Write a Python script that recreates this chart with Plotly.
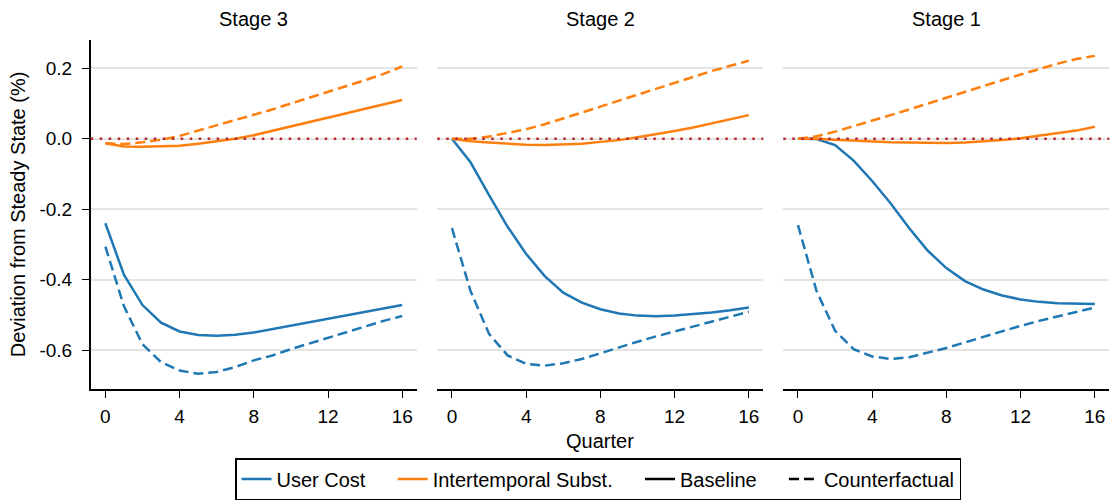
import plotly.graph_objects as go

quarters = list(range(17))
stages = ["Stage 3", "Stage 2", "Stage 1"]

# Stage 3
s3_user_base = [-0.240, -0.386, -0.472, -0.522, -0.547, -0.557, -0.559, -0.556, -0.550,
                -0.540, -0.531, -0.522, -0.511, -0.502, -0.492, -0.482, -0.472]
s3_user_cf = [-0.306, -0.475, -0.583, -0.634, -0.658, -0.667, -0.662, -0.648, -0.629,
              -0.615, -0.597, -0.581, -0.564, -0.547, -0.531, -0.517, -0.503]
s3_inter_base = [-0.013, -0.022, -0.023, -0.0225, -0.020, -0.014, -0.0075, 0.000, 0.010,
                 0.022, 0.035, 0.047, 0.060, 0.072, 0.085, 0.097, 0.110]
s3_inter_cf = [-0.013, -0.015, -0.010, -0.003, 0.008, 0.023, 0.037, 0.053, 0.068,
               0.083, 0.100, 0.116, 0.132, 0.149, 0.166, 0.184, 0.205]

# Stage 2
s2_user_base = [0.000, -0.067, -0.160, -0.250, -0.327, -0.390, -0.437, -0.465, -0.484,
                -0.496, -0.502, -0.504, -0.502, -0.498, -0.493, -0.487, -0.479]
s2_user_cf = [-0.254, -0.432, -0.554, -0.615, -0.639, -0.644, -0.637, -0.625, -0.609,
              -0.592, -0.576, -0.561, -0.547, -0.533, -0.519, -0.506, -0.491]
s2_inter_base = [0.000, -0.007, -0.011, -0.015, -0.017, -0.018, -0.017, -0.014, -0.009,
                 -0.004, 0.004, 0.012, 0.022, 0.032, 0.043, 0.054, 0.067]
s2_inter_cf = [0.000, 0.000, 0.006, 0.016, 0.027, 0.041, 0.057, 0.074, 0.091,
               0.108, 0.125, 0.142, 0.159, 0.175, 0.192, 0.207, 0.221]

# Stage 1
s1_user_base = [0.000, -0.001, -0.018, -0.062, -0.120, -0.184, -0.254, -0.318, -0.367,
                -0.404, -0.428, -0.445, -0.456, -0.463, -0.467, -0.469, -0.469]
s1_user_cf = [-0.245, -0.432, -0.545, -0.597, -0.618, -0.625, -0.620, -0.608, -0.594,
              -0.578, -0.562, -0.547, -0.531, -0.517, -0.504, -0.492, -0.479]
s1_inter_base = [0.000, 0.000, -0.003, -0.006, -0.008, -0.010, -0.011, -0.012, -0.012,
                 -0.011, -0.008, -0.004, 0.001, 0.008, 0.015, 0.023, 0.034]
s1_inter_cf = [0.000, 0.007, 0.020, 0.035, 0.051, 0.067, 0.083, 0.100, 0.116,
               0.133, 0.149, 0.166, 0.182, 0.198, 0.213, 0.226, 0.235]

panel_data = [
    (s3_user_base, s3_user_cf, s3_inter_base, s3_inter_cf),
    (s2_user_base, s2_user_cf, s2_inter_base, s2_inter_cf),
    (s1_user_base, s1_user_cf, s1_inter_base, s1_inter_cf),
]

x_ticks = [0, 4, 8, 12, 16]
y_ticks = [-0.6, -0.4, -0.2, 0.0, 0.2]
y_ticktext = ["-0.6", "-0.4", "-0.2", "0.0", "0.2"]
legend_names = ["User Cost", "Intertemporal Subst.", "Baseline", "Counterfactual"]

BLUE = "#1f77b4"
ORANGE = "#ff7f0e"
RED = "#b5262b"
DASH = "10px,5px"
FONT = "Liberation Sans, Arial, Helvetica, sans-serif"
LW = 2.5

W, H = 1110, 500
panel_px = [(90.7, 416.7), (437.3, 763.3), (783.3, 1109.3)]
y_top_px, y_bot_px = 40, 391.7

fig = go.Figure()

for i, (ub, ucf, ib, icf) in enumerate(panel_data):
    xa = "x" if i == 0 else f"x{i+1}"
    ya = "y" if i == 0 else f"y{i+1}"
    for vals, color, dash in [(ub, BLUE, "solid"), (ucf, BLUE, DASH),
                              (ib, ORANGE, "solid"), (icf, ORANGE, DASH)]:
        fig.add_trace(go.Scatter(x=quarters, y=vals, mode="lines", xaxis=xa, yaxis=ya,
                                 line=dict(color=color, width=LW, dash=dash),
                                 showlegend=False, hoverinfo="skip"))
    fig.add_shape(type="line", xref=f"{xa} domain", yref=ya, x0=0, x1=1, y0=0, y1=0,
                  line=dict(color=RED, width=2.5, dash="2.5px,6.5px"), layer="above")

# legend entries
pad = "\u00a0" * 4
leg_styles = [(BLUE, "solid"), (ORANGE, "solid"), ("black", "solid"), ("black", DASH)]
for k, (name, (color, dash)) in enumerate(zip(legend_names, leg_styles)):
    label = name + (pad if k < len(legend_names) - 1 else "")
    fig.add_trace(go.Scatter(x=[None], y=[None], mode="lines", name=label,
                             line=dict(color=color, width=LW, dash=dash), showlegend=True))

layout = dict(
    width=W, height=H,
    margin=dict(l=0, r=0, t=0, b=0),
    paper_bgcolor="white", plot_bgcolor="white",
    font=dict(family=FONT, size=19, color="black"),
    showlegend=True,
    legend=dict(orientation="h", x=598 / W, xanchor="center", y=1 - 462 / H, yanchor="top",
                bordercolor="black", borderwidth=1.5, font=dict(size=20),
                bgcolor="white"),
)

ydom = [1 - y_bot_px / H, 1 - y_top_px / H]
for i, (l, r) in enumerate(panel_px):
    sfx = "" if i == 0 else str(i + 1)
    layout["xaxis" + sfx] = dict(
        domain=[l / W, r / W], range=[-0.79, 16.78], anchor="y" + sfx,
        tickmode="array", tickvals=x_ticks, ticks="outside", ticklen=8, tickwidth=1.3,
        tickcolor="black", showline=True, linecolor="black", linewidth=1.5,
        showgrid=False, zeroline=False, tickfont=dict(size=19), ticklabelstandoff=2,
    )
    ya = dict(
        domain=ydom, range=[-0.709, 0.281], anchor="x" + sfx,
        tickmode="array", tickvals=y_ticks, ticktext=y_ticktext,
        showgrid=True, gridcolor="#e4e4e4", gridwidth=1.5, zeroline=False,
    )
    if i == 0:
        ya.update(ticks="outside", ticklen=7, tickwidth=1.3, tickcolor="black",
                  showline=True, linecolor="black", linewidth=1.5,
                  tickfont=dict(size=19), ticklabelstandoff=6)
    else:
        ya.update(showticklabels=False, ticks="", showline=False)
    layout["yaxis" + sfx] = ya

annotations = []
for (l, r), title in zip(panel_px, stages):
    annotations.append(dict(text=title, x=(l + r) / 2 / W, y=1 - 19 / H, xref="paper", yref="paper",
                            xanchor="center", yanchor="middle", showarrow=False,
                            font=dict(size=20)))
annotations.append(dict(text="Quarter", x=600 / W, y=1 - 445 / H, xref="paper", yref="paper",
                        xanchor="center", yanchor="middle", showarrow=False, font=dict(size=20)))
annotations.append(dict(text="Deviation from Steady State (%)", x=18 / W, y=1 - 216 / H,
                        xref="paper", yref="paper", xanchor="center", yanchor="middle",
                        textangle=-90, showarrow=False, font=dict(size=20)))
layout["annotations"] = annotations

fig.update_layout(**layout)
fig.write_html("out.html")
